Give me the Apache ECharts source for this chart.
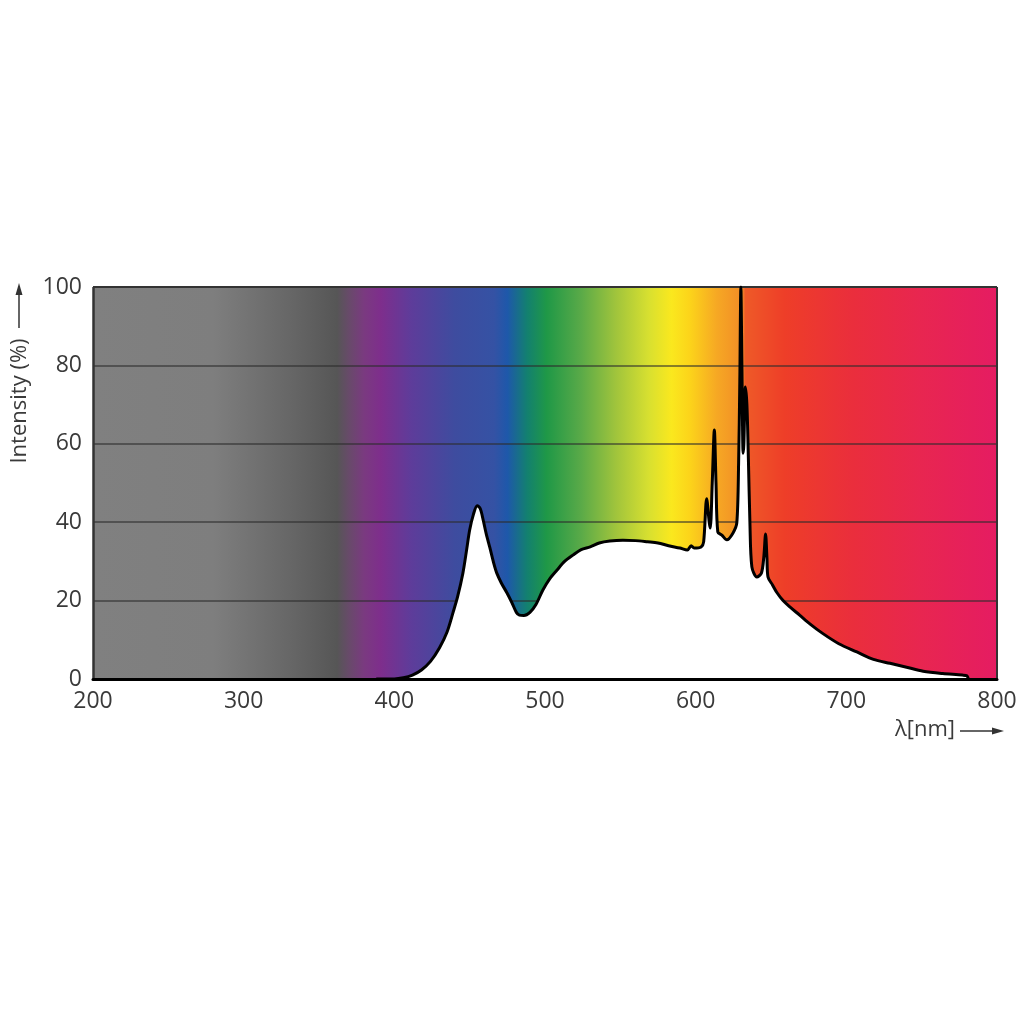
<!DOCTYPE html>
<html>
<head>
<meta charset="utf-8">
<script src="https://cdn.jsdelivr.net/npm/echarts@6/dist/echarts.min.js"></script>
<style>html,body{margin:0;padding:0;background:#fff}#c{width:1024px;height:1024px}</style>
</head>
<body>
<div id="c"></div>
<script>
// ---- data ----
const wavelengths = [388,400,406,412,418,424,430,435,439,442,445.5,448,450,452.5,455,457,459,461,463.4,466,468,471,474.7,478,481,483,486,490,494,498.6,503,508,513,518.5,524,530,536,543,551.7,560,568,575,582,589.5,594.5,597,599,603.6,605.3,607.3,609,609.7,611,612.4,613.5,614.7,617.4,620.7,624.7,627.3,628.5,629.3,630,630.7,631.5,632,633,634,635,636,637.3,640.6,643.6,645.2,646.4,647.3,648,651,654,658,662.5,669,676,684,695,707,718,729,740,751,764,777,780,781];
const intensity   = [0,0,0.3,1,2.3,4.5,8,12,17,21,27,33,38,42,44.2,43.5,40.5,37,33.5,29.5,27,24.5,22,19.5,17,16.3,16.2,17,19,22.7,25.5,27.8,30,31.6,33,33.7,34.7,35.2,35.4,35.3,35,34.7,34,33.4,32.9,34,33.4,33.7,35,46,40,38.5,50,63.5,50,37.5,36.7,35.5,37.2,39.8,55,76,100,80,57.6,60,74.5,70,56,40,28.6,26,27,31,37,31,26,24,22,20,18.4,16.3,14,11.7,9,6.9,5,4,3,2,1.4,1,0.8,0];
const xTicks = [200,300,400,500,600,700,800];
const yTicks = [0,20,40,60,80,100];
const gridLevels = [20,40,60,80];
// spectrum background colour stops: [wavelength, colour]
const spectrumStops = [
  [200,'#808080'],[280,'#7e7e7e'],[332,'#666666'],[362,'#565656'],[370,'#684a6a'],
  [380,'#7a3a80'],[391,'#7e2e8c'],[411,'#5e3c9a'],[440,'#3e4c9f'],[466,'#3552a4'],
  [475,'#1e58aa'],[488,'#138070'],[501,'#1f9847'],[524,'#5aaa48'],[547,'#a0c43c'],
  [569,'#d8e030'],[584,'#fae81e'],[596,'#fcd41a'],[614,'#f6a824'],[631,'#f28c26'],
  [633,'#ee5a28'],[659,'#ee3e28'],[704,'#ea2e3c'],[749,'#e82650'],[800,'#e51c62']
];

const xMin = 200, xMax = 800;
const spectrumData = wavelengths.map((w, i) => [w, intensity[i]]);
const gradient = new echarts.graphic.LinearGradient(0, 0, 1, 0,
  spectrumStops.map(s => ({offset: (s[0] - xMin) / (xMax - xMin), color: s[1]})));

const chart = echarts.init(document.getElementById('c'), null, {renderer: 'canvas'});
const labelStyle = {fontFamily: 'Open Sans', fontSize: 23, color: '#3a3a3a'};

chart.setOption({
  animation: false,
  backgroundColor: '#ffffff',
  grid: {left: 93, right: 27, top: 287, bottom: 345, containLabel: false},
  xAxis: {
    type: 'value', min: xMin, max: xMax, interval: 100, z: 20,
    axisLine: {show: true, lineStyle: {color: '#000', width: 3}},
    axisTick: {show: false}, splitLine: {show: false},
    axisLabel: Object.assign({margin: 11, formatter: v => xTicks.includes(v) ? String(v) : ''}, labelStyle)
  },
  yAxis: {
    type: 'value', min: 0, max: 100, interval: 20, z: 20,
    axisLine: {show: false}, axisTick: {show: false}, splitLine: {show: false},
    axisLabel: Object.assign({margin: 11, formatter: v => yTicks.includes(v) ? String(v) : ''}, labelStyle)
  },
  series: [
    {
      type: 'line', data: [[xMin, 0]], symbol: 'none', z: 1,
      lineStyle: {opacity: 0}, silent: true,
      markArea: {
        silent: true, z: 1,
        itemStyle: {color: gradient},
        data: [[{coord: [xMin, 0]}, {coord: [xMax, 100]}]]
      },
      markLine: {
        silent: true, z: 5, symbol: ['none', 'none'], label: {show: false},
        data: gridLevels.map(v => ({yAxis: v, lineStyle: {color: 'rgba(45,45,45,0.75)', width: 1.5, type: 'solid'}}))
          .concat([
            {yAxis: 100, lineStyle: {color: '#333', width: 2, type: 'solid'}},
            {xAxis: xMin, lineStyle: {color: '#333', width: 2.5, type: 'solid'}},
            {xAxis: xMax, lineStyle: {color: '#333', width: 2, type: 'solid'}}
          ])
      }
    },
    {
      type: 'line', data: spectrumData, symbol: 'none', z: 10,
      smooth: 0.3,
      lineStyle: {color: '#000', width: 3, join: 'round'},
      areaStyle: {color: '#ffffff', opacity: 1}
    }
  ],
  graphic: [
    {
      type: 'text', x: 20, y: 401, rotation: Math.PI / 2, z: 30,
      style: {text: 'Intensity (%)', font: '22px "Open Sans"', fill: '#3a3a3a', align: 'center', verticalAlign: 'middle'}
    },
    {type: 'line', z: 30, shape: {x1: 19, y1: 328, x2: 19, y2: 292}, style: {stroke: '#333', lineWidth: 1.5}},
    {type: 'polygon', z: 30, shape: {points: [[19, 283], [15.5, 295], [22.5, 295]]}, style: {fill: '#333'}},
    {
      type: 'text', x: 925, y: 730, z: 30,
      style: {text: 'λ[nm]', font: '22px "Open Sans"', fill: '#3a3a3a', align: 'center', verticalAlign: 'middle'}
    },
    {type: 'line', z: 30, shape: {x1: 960, y1: 731, x2: 995, y2: 731}, style: {stroke: '#333', lineWidth: 1.5}},
    {type: 'polygon', z: 30, shape: {points: [[1004, 731], [992, 727.5], [992, 734.5]]}, style: {fill: '#333'}}
  ]
});
</script>
</body>
</html>
